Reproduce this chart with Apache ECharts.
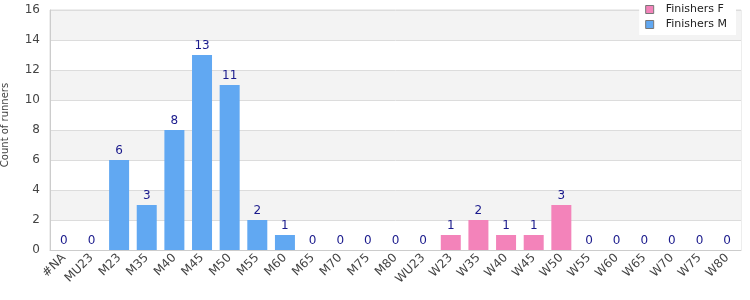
<!DOCTYPE html>
<html>
<head>
<meta charset="utf-8">
<script src="https://cdn.jsdelivr.net/npm/echarts@6/dist/echarts.min.js"></script>
<style>
  html, body { margin: 0; padding: 0; background: #fff; }
  #chart { width: 750px; height: 300px; }
</style>
</head>
<body>
<div id="chart"></div>
<script>
// categories (age groups)
var categories = ['#NA', 'MU23', 'M23', 'M35', 'M40', 'M45', 'M50', 'M55', 'M60', 'M65', 'M70', 'M75', 'M80',
  'WU23', 'W23', 'W35', 'W40', 'W45', 'W50', 'W55', 'W60', 'W65', 'W70', 'W75', 'W80'];
// '-' = no value for that gender
var finishersM = [0, 0, 6, 3, 8, 13, 11, 2, 1, 0, 0, 0, 0,
  '-', '-', '-', '-', '-', '-', '-', '-', '-', '-', '-', '-'];
var finishersF = ['-', '-', '-', '-', '-', '-', '-', '-', '-', '-', '-', '-', '-',
  0, 1, 2, 1, 1, 3, 0, 0, 0, 0, 0, 0];
var yTicks = { min: 0, max: 16, interval: 2 };

var chart = echarts.init(document.getElementById('chart'));

var labelStyle = {
  show: true,
  position: 'top',
  color: '#1a1a8c',
  fontSize: 12,
  fontFamily: 'DejaVu Sans',
  distance: 3
};

var option = {
  animation: false,
  textStyle: { fontFamily: 'DejaVu Sans' },
  grid: {
    left: 50, right: 9, top: 10, bottom: 50,
    outerBoundsMode: 'none',
    containLabel: false,
    show: true, borderColor: '#dcdcdc', borderWidth: 1
  },
  legend: {
    orient: 'vertical',
    right: 14, top: 0,
    backgroundColor: '#fff',
    padding: [4, 9, 5, 6],
    itemGap: 4,
    itemWidth: 8, itemHeight: 8,
    icon: 'rect',
    itemStyle: { borderColor: '#777', borderWidth: 1 },
    textStyle: { fontSize: 11, color: '#222', fontFamily: 'DejaVu Sans', padding: [0, 0, 0, 7] },
    data: ['Finishers F', 'Finishers M']
  },
  xAxis: {
    type: 'category',
    data: categories,
    axisLine: { lineStyle: { color: '#ccc' } },
    axisTick: { show: false },
    axisLabel: { rotate: 45, color: '#444', fontSize: 12, interval: 0, margin: 6 }
  },
  yAxis: {
    type: 'value',
    min: yTicks.min, max: yTicks.max, interval: yTicks.interval,
    name: 'Count of runners',
    nameLocation: 'middle',
    nameGap: 40,
    nameTextStyle: { color: '#444', fontSize: 10, padding: [0, 0, 0, 10] },
    axisLine: { show: true, lineStyle: { color: '#ccc' } },
    axisLabel: { color: '#444', fontSize: 12, margin: 10 },
    splitLine: { lineStyle: { color: '#dcdcdc' } },
    splitArea: { show: true, areaStyle: { color: ['#ffffff', '#f3f3f3'] } }
  },
  series: [
    {
      name: 'Finishers F',
      type: 'bar',
      stack: 'total',
      barWidth: 20,
      data: finishersF,
      itemStyle: { color: '#f383ba' },
      label: labelStyle
    },
    {
      name: 'Finishers M',
      type: 'bar',
      stack: 'total',
      barWidth: 20,
      data: finishersM,
      itemStyle: { color: '#61a8f2' },
      label: labelStyle
    }
  ]
};
chart.setOption(option);
</script>
</body>
</html>
